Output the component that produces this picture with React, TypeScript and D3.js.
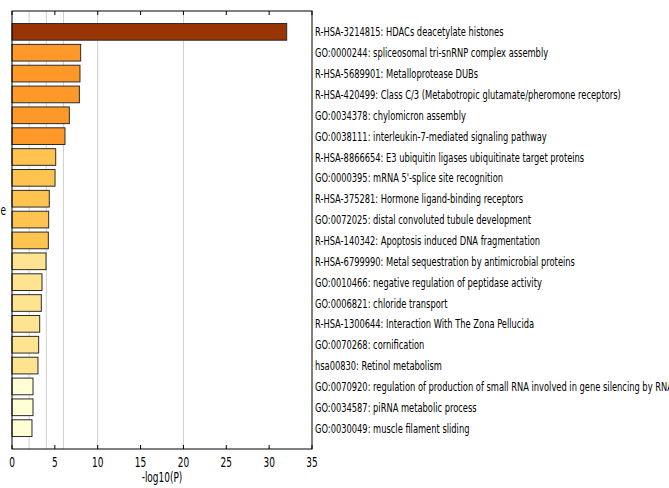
import React from 'react';
import * as d3 from 'd3';

const terms = [
  'R-HSA-3214815: HDACs deacetylate histones',
  'GO:0000244: spliceosomal tri-snRNP complex assembly',
  'R-HSA-5689901: Metalloprotease DUBs',
  'R-HSA-420499: Class C/3 (Metabotropic glutamate/pheromone receptors)',
  'GO:0034378: chylomicron assembly',
  'GO:0038111: interleukin-7-mediated signaling pathway',
  'R-HSA-8866654: E3 ubiquitin ligases ubiquitinate target proteins',
  "GO:0000395: mRNA 5'-splice site recognition",
  'R-HSA-375281: Hormone ligand-binding receptors',
  'GO:0072025: distal convoluted tubule development',
  'R-HSA-140342: Apoptosis induced DNA fragmentation',
  'R-HSA-6799990: Metal sequestration by antimicrobial proteins',
  'GO:0010466: negative regulation of peptidase activity',
  'GO:0006821: chloride transport',
  'R-HSA-1300644: Interaction With The Zona Pellucida',
  'GO:0070268: cornification',
  'hsa00830: Retinol metabolism',
  'GO:0070920: regulation of production of small RNA involved in gene silencing by RNA',
  'GO:0034587: piRNA metabolic process',
  'GO:0030049: muscle filament sliding',
];

const logP = [32.05, 8.01, 7.93, 7.86, 6.69, 6.18, 5.1, 5.02, 4.35, 4.28, 4.24, 3.97, 3.5, 3.42, 3.23, 3.11, 3.03, 2.45, 2.45, 2.33];

// colour bin of each bar
const colorBin = [4, 3, 3, 3, 3, 3, 2, 2, 2, 2, 2, 1, 1, 1, 1, 1, 1, 0, 0, 0];
const palette = ['#ffffd4', '#fee391', '#fec44f', '#fe9929', '#993404'];

const xTicks = [0, 5, 10, 15, 20, 25, 30, 35];
const gridLines = [2, 4, 6, 10, 20];

const W = 669;
const H = 488;
const left = 12;
const right = 312;
const top = 11;
const bottom = 449;
const squeeze = 0.665;
const font = 'DejaVu Sans';

export default function App() {
  const x = d3.scaleLinear().domain([0, 35]).range([left, right]);
  const y = d3.scalePoint<string>().domain(terms).range([top, bottom]).padding(1);
  const barH = y.step() * 0.8;

  return (
    <svg width={W} height={H} style={{ position: 'absolute', left: 0, top: 0 }}>
      <rect width={W} height={H} fill="#fff" />
      {gridLines.map((g) => (
        <line key={g} x1={x(g)} x2={x(g)} y1={top} y2={bottom} stroke="#cfcfcf" strokeWidth={1} />
      ))}
      {logP.map((v, i) => (
        <rect
          key={i}
          x={x(0)}
          y={(y(terms[i]) as number) - barH / 2}
          width={x(v) - x(0)}
          height={barH}
          fill={palette[colorBin[i]]}
          stroke="#2b2b2b"
          strokeWidth={1}
        />
      ))}
      <rect x={left} y={top} width={right - left} height={bottom - top} fill="none" stroke="#000" strokeWidth={1} />
      {xTicks.map((t) => (
        <g key={t}>
          <line x1={x(t)} x2={x(t)} y1={top} y2={top + 4} stroke="#000" />
          <line x1={x(t)} x2={x(t)} y1={bottom} y2={bottom - 4} stroke="#000" />
          <text
            transform={`translate(${x(t)},${bottom + 18}) scale(${squeeze},1)`}
            textAnchor="middle"
            fontFamily={font}
            fontSize={13.5}
            fill="#000"
          >
            {t}
          </text>
        </g>
      ))}
      <text
        transform={`translate(${(left + right) / 2},${bottom + 33}) scale(${squeeze},1)`}
        textAnchor="middle"
        fontFamily={font}
        fontSize={13.5}
        fill="#000"
      >
        -log10(P)
      </text>
      <text
        transform={`translate(6,215) scale(${squeeze},1)`}
        textAnchor="end"
        fontFamily={font}
        fontSize={13.5}
        fill="#000"
      >
        e
      </text>
      {terms.map((t) => (
        <text
          key={t}
          transform={`translate(${right + 3},${(y(t) as number) + 4.5}) scale(${squeeze},1)`}
          fontFamily={font}
          fontSize={12.5}
          fill="#000"
        >
          {t}
        </text>
      ))}
    </svg>
  );
}
